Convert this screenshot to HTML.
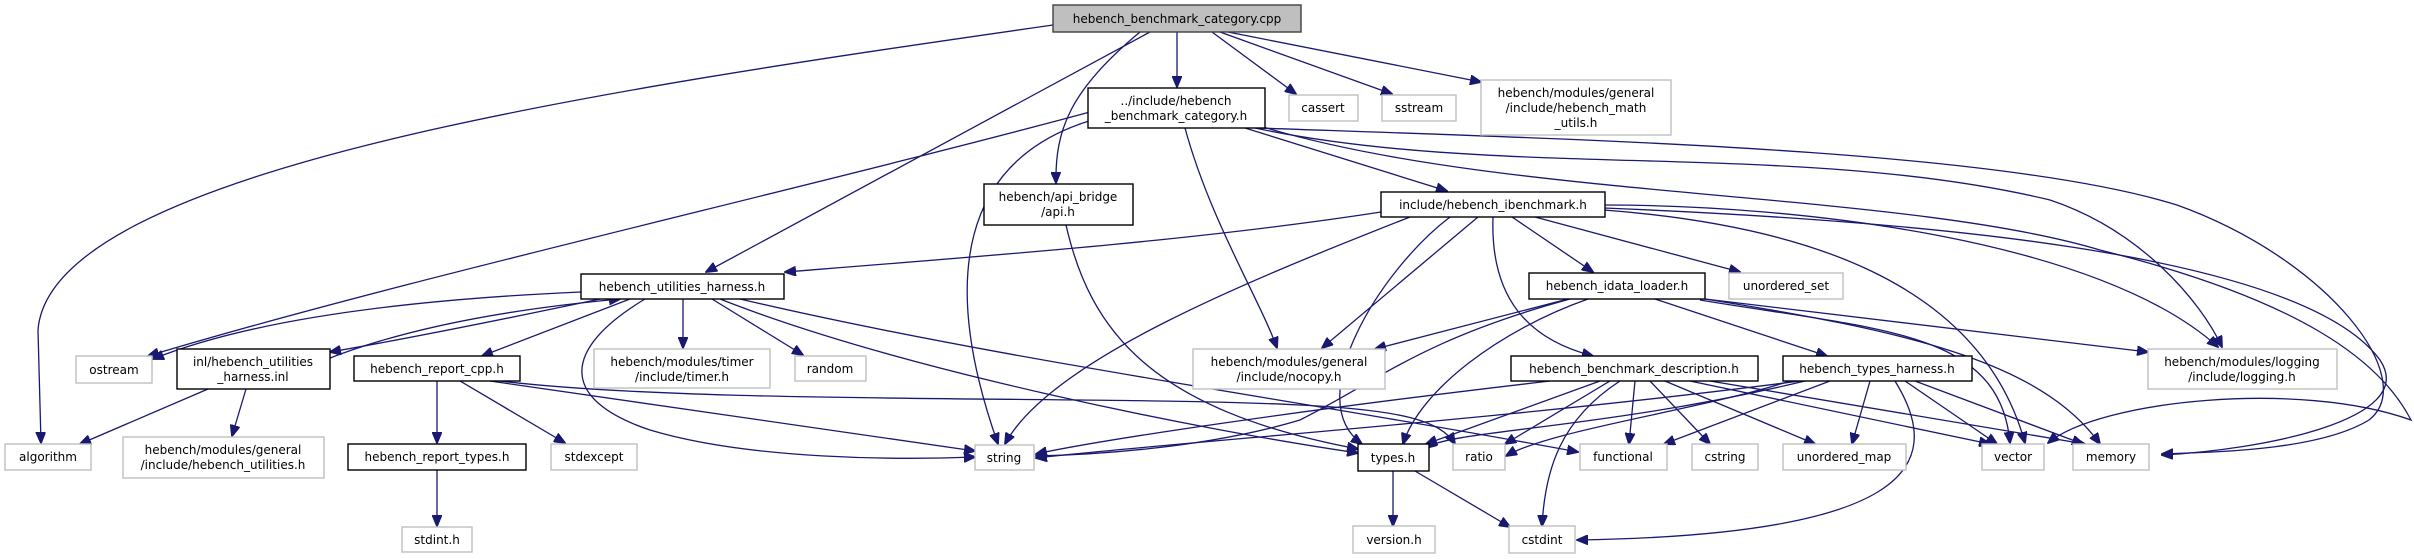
<!DOCTYPE html>
<html><head><meta charset="utf-8"><style>
html,body{margin:0;padding:0;background:#fff;}
svg{display:block;}
text{font-family:"DejaVu Sans","Liberation Sans",sans-serif;font-size:12px;fill:#000;text-anchor:middle;}
.d{fill:#fff;stroke:#000;stroke-width:1.4;}
.g{fill:#fff;stroke:#bfbfbf;stroke-width:1.4;}
.r{fill:#bfbfbf;stroke:#404040;stroke-width:1.4;}
path{fill:none;stroke:#191970;stroke-width:1.3;}
</style></head><body>
<svg width="2414" height="559" viewBox="0 0 2414 559" xmlns="http://www.w3.org/2000/svg">
<defs><marker id="a" markerWidth="12" markerHeight="10" refX="11" refY="5" orient="auto" markerUnits="userSpaceOnUse"><polygon points="0,0 12,5 0,10" fill="#191970" stroke="#191970"/></marker></defs>
<g marker-end="url(#a)">
<!-- root -->
<path d="M1053,25 C600,90 50,170 38,330 L41,443"/>
<path d="M1150,32 L706,272"/>
<path d="M1140,32 C1070,90 1055,130 1056,183"/>
<path d="M1177,32 L1177,87"/>
<path d="M1212,32 L1296,94"/>
<path d="M1220,32 L1392,94"/>
<path d="M1228,32 L1481,82"/>
<!-- category.h -->
<path d="M1090,112 C800,190 400,280 148,356"/>
<path d="M1092,120 C960,160 940,280 998,444"/>
<path d="M1185,128 C1210,220 1260,300 1277,348"/>
<path d="M1245,128 L1447,191"/>
<path d="M1255,128 C1500,180 1800,140 2050,200 C2140,230 2200,300 2222,347"/>
<path d="M1258,128 C1600,140 2000,150 2177,205 C2330,260 2420,380 2369,420 C2320,450 2220,452 2162,454"/>
<path d="M1260,126 C1500,200 1900,190 2100,250 C2300,300 2380,360 2411,420 C2300,380 2100,400 2048,443"/>
<!-- ibenchmark -->
<path d="M1381,212 C1200,240 1000,255 785,272"/>
<path d="M1410,217 C1250,280 1050,360 1005,444"/>
<path d="M1478,217 L1322,348"/>
<path d="M1493,217 C1490,300 1530,340 1593,356"/>
<path d="M1512,217 L1593,272"/>
<path d="M1535,217 L1740,272"/>
<path d="M1604,210 C1800,225 1980,280 2025,443"/>
<path d="M1604,205 C1800,205 2100,240 2218,347"/>
<path d="M1604,208 C1900,220 2300,250 2380,360 C2420,420 2260,450 2162,455"/>
<path d="M1450,217 C1380,270 1300,400 1362,444"/>
<!-- idata loader -->
<path d="M1568,299 L1375,349"/>
<path d="M1588,299 C1500,330 1420,390 1403,444"/>
<path d="M1570,299 C1420,340 1380,380 1300,420 C1200,450 1080,455 1036,456"/>
<path d="M1655,299 L1827,356"/>
<path d="M1705,299 L2148,352"/>
<path d="M1700,300 C1880,330 2000,330 2010,443"/>
<path d="M1705,299 C1900,330 2040,360 2100,444"/>
<!-- description -->
<path d="M1550,381 C1300,410 1100,440 1036,454"/>
<path d="M1600,381 L1426,444"/>
<path d="M1610,381 L1505,444"/>
<path d="M1620,381 C1560,420 1545,470 1542,526"/>
<path d="M1635,381 L1629,444"/>
<path d="M1650,381 L1710,444"/>
<path d="M1665,381 L1815,444"/>
<path d="M1690,381 L1990,444"/>
<path d="M1710,381 L2085,444"/>
<!-- types harness -->
<path d="M1800,381 C1500,420 1200,440 1036,458"/>
<path d="M1805,381 C1600,430 1450,430 1426,448"/>
<path d="M1790,381 C1700,410 1550,430 1506,456"/>
<path d="M1830,381 L1664,444"/>
<path d="M1870,381 L1852,444"/>
<path d="M1895,381 C1950,470 1900,535 1577,540"/>
<path d="M1905,381 L1997,444"/>
<path d="M1915,381 L2083,444"/>
<!-- utilities harness -->
<path d="M581,292 C400,300 250,320 153,359"/>
<path d="M600,299 C500,320 400,340 330,352"/>
<path d="M325,360 C400,330 500,310 620,299"/>
<path d="M630,299 L482,356"/>
<path d="M645,299 C560,350 560,400 650,430 C750,460 900,460 975,457"/>
<path d="M683,299 L683,348"/>
<path d="M712,299 L803,355"/>
<path d="M720,299 C900,370 1200,430 1358,453"/>
<path d="M740,299 C1000,360 1300,400 1578,452"/>
<!-- inl -->
<path d="M208,389 L80,444"/>
<path d="M246,389 L232,436"/>
<!-- report cpp -->
<path d="M437,381 L437,443"/>
<path d="M460,381 L565,443"/>
<path d="M490,381 L975,451"/>
<path d="M500,381 C700,405 1100,395 1300,405 C1400,410 1440,420 1455,444"/>
<path d="M437,470 L437,526"/>
<!-- api.h -->
<path d="M1066,225 C1090,330 1150,410 1358,449"/>
<!-- types.h -->
<path d="M1393,471 L1393,526"/>
<path d="M1415,471 L1510,527"/>
</g>
<!-- nodes -->
<rect class="r" x="1053" y="5" width="248" height="27"/><text x="1177" y="23">hebench_benchmark_category.cpp</text>
<rect class="d" x="1088" y="88" width="177" height="40"/><text x="1176" y="105">../include/hebench</text><text x="1176" y="120">_benchmark_category.h</text>
<rect class="g" x="1289" y="95" width="69" height="26"/><text x="1323" y="112">cassert</text>
<rect class="g" x="1382" y="95" width="74" height="26"/><text x="1419" y="112">sstream</text>
<rect class="g" x="1481" y="80" width="190" height="55"/><text x="1576" y="97">hebench/modules/general</text><text x="1576" y="112">/include/hebench_math</text><text x="1576" y="127">_utils.h</text>
<rect class="d" x="984" y="184" width="149" height="41"/><text x="1058" y="201">hebench/api_bridge</text><text x="1058" y="216">/api.h</text>
<rect class="d" x="1381" y="192" width="224" height="25"/><text x="1493" y="209">include/hebench_ibenchmark.h</text>
<rect class="d" x="581" y="274" width="203" height="25"/><text x="682" y="291">hebench_utilities_harness.h</text>
<rect class="d" x="1529" y="273" width="176" height="26"/><text x="1617" y="290">hebench_idata_loader.h</text>
<rect class="g" x="1729" y="273" width="114" height="26"/><text x="1786" y="290">unordered_set</text>
<rect class="g" x="76" y="356" width="76" height="27"/><text x="114" y="374">ostream</text>
<rect class="d" x="177" y="349" width="153" height="40"/><text x="253" y="366">inl/hebench_utilities</text><text x="253" y="381">_harness.inl</text>
<rect class="d" x="354" y="356" width="166" height="25"/><text x="437" y="373">hebench_report_cpp.h</text>
<rect class="g" x="594" y="349" width="176" height="39"/><text x="682" y="366">hebench/modules/timer</text><text x="682" y="381">/include/timer.h</text>
<rect class="g" x="795" y="356" width="71" height="25"/><text x="830" y="373">random</text>
<rect class="g" x="1193" y="349" width="192" height="40"/><text x="1289" y="366">hebench/modules/general</text><text x="1289" y="381">/include/nocopy.h</text>
<rect class="d" x="1511" y="356" width="247" height="25"/><text x="1634" y="373">hebench_benchmark_description.h</text>
<rect class="d" x="1783" y="356" width="189" height="25"/><text x="1877" y="373">hebench_types_harness.h</text>
<rect class="g" x="2148" y="349" width="189" height="40"/><text x="2242" y="366">hebench/modules/logging</text><text x="2242" y="381">/include/logging.h</text>
<rect class="g" x="5" y="444" width="86" height="26"/><text x="48" y="461">algorithm</text>
<rect class="g" x="123" y="437" width="201" height="41"/><text x="223" y="454">hebench/modules/general</text><text x="223" y="469">/include/hebench_utilities.h</text>
<rect class="d" x="348" y="444" width="178" height="26"/><text x="437" y="461">hebench_report_types.h</text>
<rect class="g" x="551" y="444" width="86" height="26"/><text x="594" y="461">stdexcept</text>
<rect class="g" x="975" y="445" width="59" height="25"/><text x="1004" y="462">string</text>
<rect class="d" x="1358" y="444" width="71" height="27"/><text x="1393" y="462">types.h</text>
<rect class="g" x="1453" y="444" width="52" height="26"/><text x="1479" y="461">ratio</text>
<rect class="g" x="1580" y="444" width="87" height="26"/><text x="1623" y="461">functional</text>
<rect class="g" x="1692" y="444" width="66" height="26"/><text x="1725" y="461">cstring</text>
<rect class="g" x="1783" y="444" width="123" height="26"/><text x="1844" y="461">unordered_map</text>
<rect class="g" x="1982" y="444" width="62" height="26"/><text x="2013" y="461">vector</text>
<rect class="g" x="2073" y="444" width="76" height="26"/><text x="2111" y="461">memory</text>
<rect class="g" x="402" y="527" width="70" height="25"/><text x="437" y="544">stdint.h</text>
<rect class="g" x="1353" y="526" width="82" height="27"/><text x="1394" y="544">version.h</text>
<rect class="g" x="1509" y="526" width="66" height="27"/><text x="1542" y="544">cstdint</text>
</svg>
</body></html>
